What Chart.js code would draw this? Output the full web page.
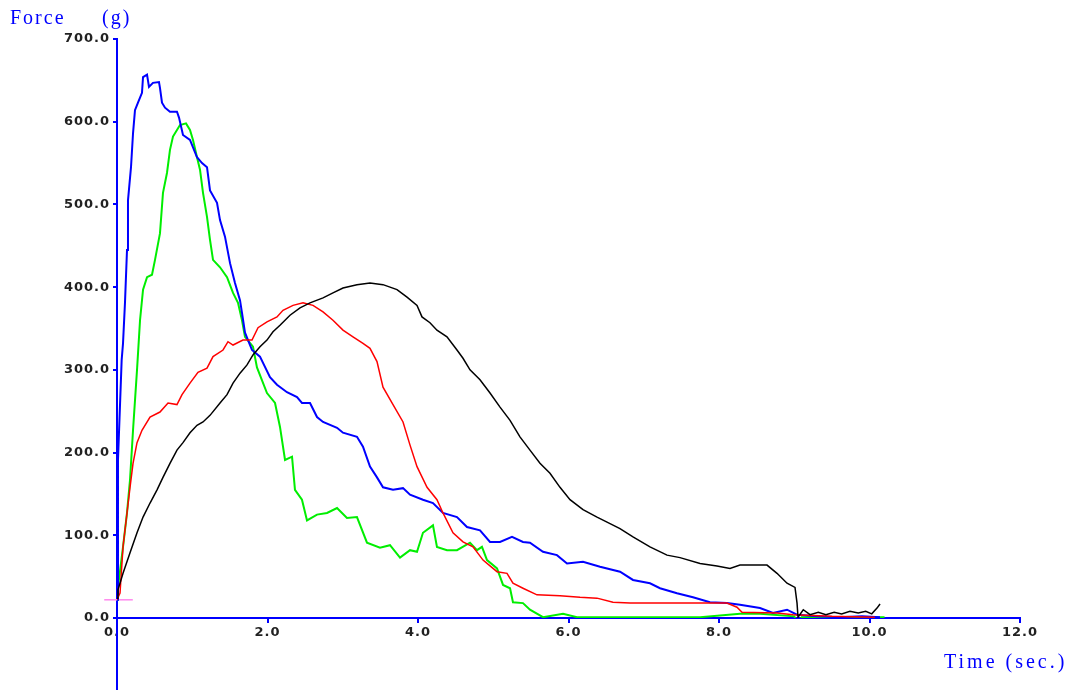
<!DOCTYPE html>
<html>
<head>
<meta charset="utf-8">
<script src="https://cdn.jsdelivr.net/npm/chart.js@4/dist/chart.umd.min.js"></script>
<style>
  body { margin: 0; background: #fff; }
  #wrap { width: 1080px; height: 693px; }
</style>
</head>
<body>
<div id="wrap"><canvas id="myChart" width="1080" height="693"></canvas></div>
<script>
// time (sec.) and force (g), one pair of arrays per run
const blueT = [0, 0.013, 0.062, 0.08, 0.106, 0.133, 0.146, 0.186, 0.213, 0.239, 0.279, 0.332, 0.346, 0.399, 0.425, 0.478, 0.558, 0.571, 0.598, 0.638, 0.704, 0.797, 0.824, 0.877, 0.97, 1.063, 1.13, 1.196, 1.236, 1.329, 1.369, 1.435, 1.502, 1.568, 1.635, 1.661, 1.701, 1.794, 1.9, 2.033, 2.126, 2.259, 2.392, 2.458, 2.565, 2.658, 2.738, 2.924, 3.003, 3.189, 3.269, 3.362, 3.455, 3.535, 3.668, 3.801, 3.894, 4.066, 4.199, 4.332, 4.518, 4.651, 4.824, 4.957, 5.09, 5.249, 5.395, 5.488, 5.661, 5.847, 5.98, 6.193, 6.419, 6.685, 6.857, 7.083, 7.216, 7.442, 7.654, 7.88, 8.106, 8.279, 8.545, 8.718, 8.904, 9.037, 9.3, 9.6, 9.9, 10.14]
const blueF = [22, 191, 312, 332, 381, 445, 505, 545, 586, 614, 623, 635, 654, 657, 642, 647, 648, 641, 623, 617, 612, 612, 605, 584, 578, 557, 550, 545, 517, 502, 481, 461, 429, 405, 384, 369, 345, 324, 316, 291, 282, 273, 267, 260, 260, 243, 237, 230, 224, 219, 207, 183, 170, 158, 155, 157, 149, 143, 139, 127, 122, 110, 106, 92, 92, 98, 92, 91, 80, 76, 66, 68, 62, 56, 46, 42, 36, 30, 25, 19, 18, 16, 12, 6, 10, 4, 2, 1, 2, 1]

const greenT = [0, 0.013, 0.08, 0.133, 0.173, 0.213, 0.266, 0.306, 0.346, 0.399, 0.465, 0.505, 0.571, 0.611, 0.664, 0.704, 0.744, 0.797, 0.837, 0.917, 0.97, 1.01, 1.063, 1.103, 1.143, 1.196, 1.236, 1.276, 1.369, 1.462, 1.542, 1.608, 1.661, 1.701, 1.807, 1.86, 1.993, 2.1, 2.166, 2.233, 2.326, 2.365, 2.458, 2.525, 2.658, 2.791, 2.924, 3.056, 3.189, 3.322, 3.495, 3.628, 3.761, 3.894, 3.987, 4.066, 4.199, 4.252, 4.385, 4.518, 4.691, 4.784, 4.85, 4.917, 5.05, 5.13, 5.223, 5.262, 5.395, 5.488, 5.661, 5.927, 6.113, 7.75, 8.28, 8.545, 9.0, 9.05, 9.1, 10.2]
const greenF = [22, 37, 86, 127, 167, 227, 300, 360, 397, 412, 415, 433, 465, 514, 538, 566, 582, 590, 596, 598, 590, 578, 557, 542, 514, 485, 457, 433, 424, 412, 393, 381, 360, 340, 328, 303, 272, 260, 231, 191, 195, 155, 143, 118, 125, 127, 133, 121, 122, 91, 85, 88, 73, 82, 80, 103, 112, 86, 82, 82, 91, 82, 86, 70, 60, 40, 36, 19, 18, 10, 1, 5, 1, 1, 5, 5, 2, -6, 1, 1]

const redT = [0, 0.04, 0.08, 0.133, 0.173, 0.213, 0.266, 0.332, 0.439, 0.571, 0.678, 0.797, 0.864, 0.97, 1.076, 1.196, 1.276, 1.409, 1.475, 1.542, 1.674, 1.794, 1.874, 1.993, 2.126, 2.206, 2.339, 2.472, 2.605, 2.738, 2.87, 3.003, 3.136, 3.269, 3.362, 3.455, 3.535, 3.668, 3.801, 3.894, 3.987, 4.12, 4.252, 4.332, 4.465, 4.598, 4.731, 4.864, 5.05, 5.183, 5.262, 5.395, 5.581, 5.887, 6.153, 6.379, 6.591, 6.817, 7.216, 7.654, 8.106, 8.239, 8.306, 8.771, 8.984, 9.5, 10.07]
const redF = [22, 30, 86, 127, 158, 187, 212, 227, 243, 249, 260, 258, 270, 284, 297, 302, 316, 324, 334, 330, 336, 336, 351, 358, 364, 372, 378, 381, 378, 370, 360, 348, 340, 332, 326, 310, 279, 258, 237, 209, 183, 158, 143, 127, 103, 92, 86, 70, 56, 54, 42, 36, 28, 27, 25, 24, 19, 18, 18, 18, 18, 13, 7, 6, 4, 2, 1]

const blackT = [0, 0.013, 0.08, 0.173, 0.266, 0.346, 0.439, 0.532, 0.611, 0.704, 0.797, 0.877, 0.97, 1.063, 1.143, 1.236, 1.369, 1.462, 1.542, 1.635, 1.728, 1.807, 1.9, 1.993, 2.073, 2.166, 2.299, 2.432, 2.565, 2.738, 2.87, 3.003, 3.189, 3.362, 3.535, 3.721, 3.854, 3.987, 4.053, 4.159, 4.252, 4.385, 4.518, 4.598, 4.691, 4.824, 4.957, 5.09, 5.223, 5.355, 5.488, 5.621, 5.754, 5.887, 6.02, 6.193, 6.379, 6.512, 6.684, 6.857, 7.083, 7.309, 7.482, 7.748, 7.973, 8.146, 8.279, 8.452, 8.638, 8.771, 8.904, 9.01, 9.037, 9.05, 9.12, 9.21, 9.32, 9.42, 9.53, 9.63, 9.74, 9.85, 9.95, 10.03, 10.1, 10.14]
const blackF = [24, 34, 54, 79, 103, 122, 139, 155, 170, 187, 203, 212, 224, 233, 237, 245, 260, 270, 284, 296, 306, 318, 328, 336, 346, 354, 366, 375, 381, 387, 393, 399, 403, 405, 403, 397, 388, 378, 364, 357, 348, 340, 324, 314, 300, 288, 272, 255, 239, 219, 203, 187, 175, 158, 143, 131, 122, 116, 108, 98, 86, 76, 73, 66, 63, 60, 64, 64, 64, 54, 42, 37, 18, 1, 10, 4, 7, 4, 7, 5, 8, 6, 8, 5, 12, 17]

// start marker near the y axis
const markT = [-0.17, 0.21]
const markF = [22, 22]

const xTicks = { min: 0, max: 12, step: 2 }
const yTicks = { min: 0, max: 700, step: 100 }

const pts = (t, f) => t.map((v, i) => ({ x: v, y: f[i] }))

const AXIS = '#0000ff'

const extras = {
  id: 'extras',
  beforeDraw(chart) {
    chart.ctx.letterSpacing = '1px'
  },
  afterDraw(chart) {
    const ctx = chart.ctx
    const a = chart.chartArea
    ctx.save()
    // y axis runs on below the time axis
    ctx.strokeStyle = AXIS
    ctx.lineWidth = 2
    ctx.beginPath()
    ctx.moveTo(a.left, a.bottom)
    ctx.lineTo(a.left, 690)
    ctx.stroke()
    ctx.fillStyle = AXIS
    ctx.font = '20px "Liberation Serif"'
    ctx.letterSpacing = '2px'
    ctx.textBaseline = 'alphabetic'
    ctx.fillText('Force', 10, 24)
    ctx.fillText('(g)', 102, 24)
    ctx.letterSpacing = '3px'
    ctx.fillText('Time (sec.)', 944, 668)
    ctx.restore()
  }
}

const createChart = () => {
  const config = {
    type: 'line',
    data: {
      datasets: [
        { data: pts(blackT, blackF), borderColor: '#000000', borderWidth: 1.5 },
        { data: pts(redT, redF), borderColor: '#ff0000', borderWidth: 1.5 },
        { data: pts(blueT, blueF), borderColor: '#0000ff', borderWidth: 2 },
        { data: pts(greenT, greenF), borderColor: '#00ee00', borderWidth: 2 },
        { data: pts(markT, markF), borderColor: '#ff88ee', borderWidth: 1.5, clip: false }
      ]
    },
    options: {
      responsive: false,
      animation: false,
      devicePixelRatio: 1,
      layout: { padding: { top: 39, right: 60, left: 0, bottom: 0 } },
      elements: { point: { radius: 0 }, line: { tension: 0, fill: false } },
      plugins: { legend: { display: false }, tooltip: { enabled: false } },
      scales: {
        x: {
          type: 'linear',
          min: xTicks.min,
          max: xTicks.max,
          afterFit: s => { s.height = 75 },
          border: { display: true, color: AXIS, width: 2 },
          grid: { drawOnChartArea: false, drawTicks: true, tickLength: 5, color: AXIS, lineWidth: 2 },
          ticks: {
            stepSize: xTicks.step,
            padding: 2,
            color: '#222',
            font: { family: 'DejaVu Sans', size: 13, weight: 'bold' },
            callback: v => v.toFixed(1)
          }
        },
        y: {
          min: yTicks.min,
          max: yTicks.max,
          afterFit: s => { s.width = 117 },
          border: { display: true, color: AXIS, width: 2 },
          grid: { drawOnChartArea: false, drawTicks: true, tickLength: 4, color: AXIS, lineWidth: 2 },
          ticks: {
            stepSize: yTicks.step,
            padding: 3,
            color: '#222',
            font: { family: 'DejaVu Sans', size: 13, weight: 'bold' },
            callback: v => v.toFixed(1)
          }
        }
      }
    },
    plugins: [extras]
  }

  myChart = new Chart(document.getElementById('myChart'), config)
}

createChart()
</script>
</body>
</html>
